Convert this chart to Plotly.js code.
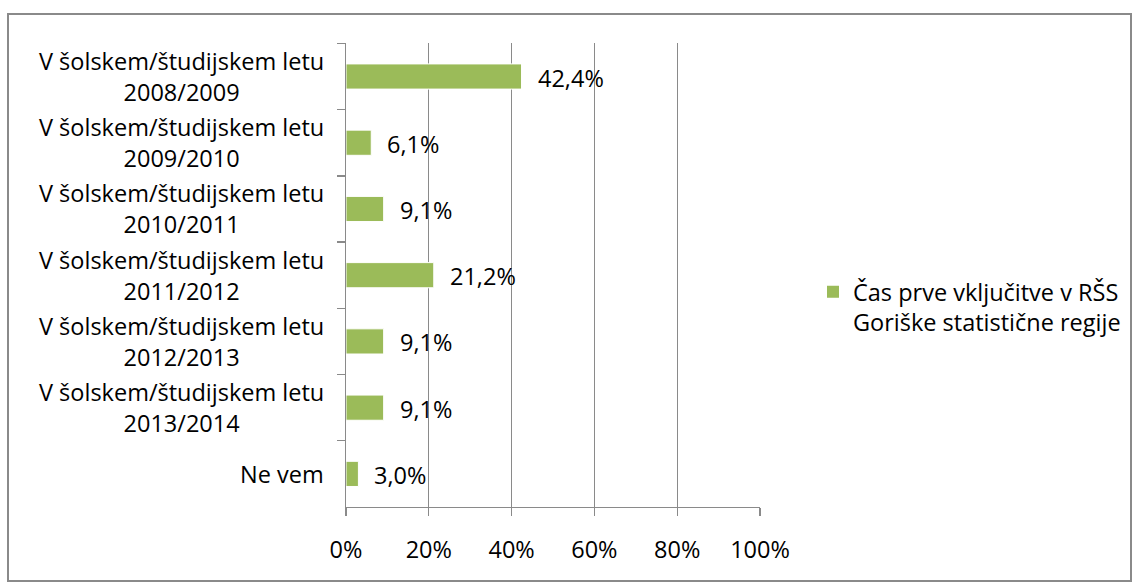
<!DOCTYPE html>
<html>
<head>
<meta charset="utf-8">
<script src="https://cdn.plot.ly/plotly-3.0.1.min.js"></script>
<style>
html,body{margin:0;padding:0;background:#fff;}
#wrap{position:relative;width:1134px;height:586px;}
#chart{position:absolute;left:0;top:0;width:1134px;height:586px;}
#frame{position:absolute;left:7px;top:13px;width:1121px;height:565px;border:2px solid #8a8a8a;pointer-events:none;}
</style>
</head>
<body>
<div id="wrap"><div id="chart"></div><div id="frame"></div></div>
<script>
var categories = [
  "V šolskem/študijskem letu<br>2008/2009",
  "V šolskem/študijskem letu<br>2009/2010",
  "V šolskem/študijskem letu<br>2010/2011",
  "V šolskem/študijskem letu<br>2011/2012",
  "V šolskem/študijskem letu<br>2012/2013",
  "V šolskem/študijskem letu<br>2013/2014",
  "Ne vem"
];
var values = [42.4, 6.1, 9.1, 21.2, 9.1, 9.1, 3.0];
var valueLabels = ["42,4%", "6,1%", "9,1%", "21,2%", "9,1%", "9,1%", "3,0%"];
var seriesName = "Čas prve vključitve v RŠS<br>Goriške statistične regije";
var tickVals = [0, 20, 40, 60, 80, 100];
var tickText = ["0%", "20%", "40%", "60%", "80%", "100%"];

var FONT = "'Open Sans', Lato, sans-serif";
var FS = 23.5;
var GRID = "#8a8a8a";
var GREEN = "#9bbb59";

var bars = {
  type: "bar",
  orientation: "h",
  x: values,
  y: categories,
  name: seriesName,
  showlegend: false,
  marker: {color: GREEN, line: {color: "#ffffff", width: 1}},
  hoverinfo: "skip"
};
var legendKey = {
  type: "scatter", mode: "markers",
  x: [null], y: [null],
  name: seriesName,
  showlegend: true,
  marker: {symbol: "square", size: 12, color: GREEN},
  hoverinfo: "skip"
};

var annotations = [];
categories.forEach(function(c, i){
  annotations.push({
    xref: "paper", yref: "y", x: 0, y: c,
    xanchor: "right", yanchor: "middle", align: "center",
    xshift: -20, showarrow: false, text: c,
    font: {family: FONT, size: FS, color: "#000"}
  });
  annotations.push({
    xref: "x", yref: "y", x: values[i], y: c,
    xanchor: "left", yanchor: "middle",
    xshift: 14, yshift: -1, showarrow: false, text: valueLabels[i],
    font: {family: FONT, size: FS, color: "#000"}
  });
});

var layout = {
  width: 1134, height: 586,
  margin: {l: 346, r: 374, t: 43, b: 79, autoexpand: false},
  paper_bgcolor: "rgba(0,0,0,0)",
  plot_bgcolor: "rgba(0,0,0,0)",
  font: {family: FONT, size: FS, color: "#000"},
  bargap: 0.62,
  showlegend: true,
  legend: {
    x: 1.128, xanchor: "left", y: 0.43, yanchor: "middle",
    valign: "top",
    font: {family: FONT, size: FS, color: "#000"},
    itemwidth: 30, bgcolor: "rgba(0,0,0,0)"
  },
  xaxis: {
    range: [0, 100], tickvals: tickVals, ticktext: tickText,
    showgrid: true, gridcolor: GRID, gridwidth: 1.3,
    showline: true, linecolor: GRID, linewidth: 1.3,
    ticks: "outside", ticklen: 8, tickcolor: GRID, tickwidth: 1.3,
    ticklabelstandoff: 13, zeroline: false,
    tickfont: {family: FONT, size: FS, color: "#000"},
    fixedrange: true
  },
  yaxis: {
    type: "category", autorange: "reversed",
    showticklabels: false, showgrid: false,
    showline: true, linecolor: GRID, linewidth: 1.3,
    ticks: "outside", ticklen: 8, tickcolor: GRID, tickwidth: 1.3,
    tickson: "boundaries", zeroline: false, fixedrange: true
  },
  annotations: annotations
};

Plotly.newPlot("chart", [bars, legendKey], layout, {displayModeBar: false, staticPlot: true});
</script>
</body>
</html>
